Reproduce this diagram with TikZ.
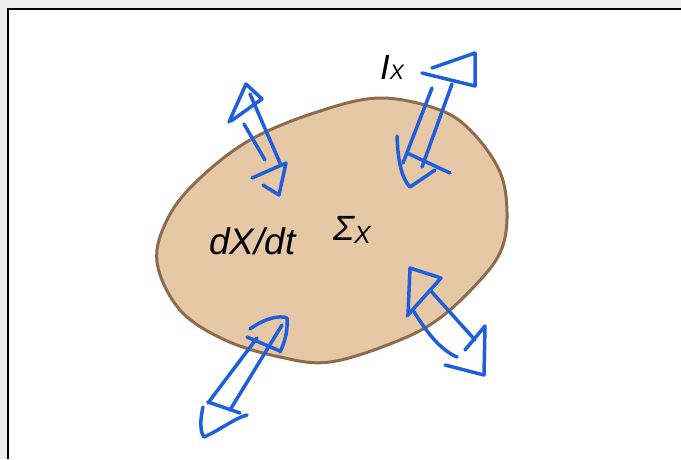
\documentclass[tikz,border=0pt]{standalone}
\usepackage{fontspec}
\setmainfont{Liberation Sans}
\begin{document}
\begin{tikzpicture}[x=1pt,y=-1pt,
  arr/.style={draw=arrblue,line width=3.5pt,line cap=round,line join=round},
  lbl/.style={inner sep=0pt,anchor=base west,font=\fontsize{37}{42}\selectfont\itshape}]
\definecolor{arrblue}{HTML}{1F5FDB}
\definecolor{blobfill}{HTML}{E6C8A6}
\definecolor{blobedge}{HTML}{8C6C4C}
\definecolor{framegray}{HTML}{EEEEEE}
\useasboundingbox (0,0) rectangle (681,459);
% frame
\fill[framegray] (0,0) rectangle (681,459);
\fill[white] (8,9) rectangle (681,459);
\draw[line width=1.5pt,black] (8,459) -- (8,9) -- (681,9);
% blob
\draw[blobedge,fill=blobfill,line width=3pt]
  plot[smooth cycle,tension=0.6] coordinates {
   (157,262) (168,218) (198,180) (250,140) (317,112) (380,98) (440,110)
   (473,133) (500,172) (507,212) (502,248) (482,278) (440,318) (395,342)
   (330,362) (280,357) (225,340) (180,310)};
% labels
\node[lbl] (dxdt) at (209,254) {dX/dt};
\node[lbl,font=\fontsize{35}{40}\selectfont\itshape] (sigma) at (333,240) {Σ\raisebox{-3pt}{\fontsize{25}{28}\selectfont X}};
\node[lbl,font=\fontsize{35}{40}\selectfont\itshape] (ix) at (380,79) {I\fontsize{21}{26}\selectfont X};
% arrow 1 (upper left)
\draw[arr] (229,122) -- (246,84) -- (262,99) -- (231,121);
\draw[arr] (250,94) -- (280,163);
\draw[arr] (244,124) -- (265,160);
\draw[arr] (252,178) -- (286,163) -- (279,195) -- (263,185);
% arrow 2 (I_X)
\draw[arr] (432,68) -- (475,53) -- (475,86) -- (422,73);
\draw[arr] (432,88) -- (403,163);
\draw[arr] (452,84) -- (422,167);
\draw[arr] (397,136) .. controls (398,165) and (403,180) .. (410,187) -- (435,170);
\draw[arr] (407,153) -- (450,173);
% arrow 3 (lower left)
\draw[arr] (250,329) .. controls (265,318) and (280,315) .. (287,318) .. controls (288,330) and (285,342) .. (280,352);
\draw[arr] (247,337) -- (280,351);
\draw[arr] (257,338) -- (208,403);
\draw[arr] (282,325) -- (230,410);
\draw[arr] (203,407) .. controls (200,420) and (200,432) .. (204,437) .. controls (220,430) and (235,418) .. (247,415);
\draw[arr] (208,402) -- (240,413);
% arrow 4 (lower right)
\draw[arr] (408,315) -- (410,268) -- (441,278) -- (407,316);
\draw[arr] (430,290) -- (475,340);
\draw[arr] (413,310) .. controls (425,330) and (440,350) .. (457,357);
\draw[arr] (465,350) -- (485,326) -- (484,375) -- (445,365);
\end{tikzpicture}
\end{document}
